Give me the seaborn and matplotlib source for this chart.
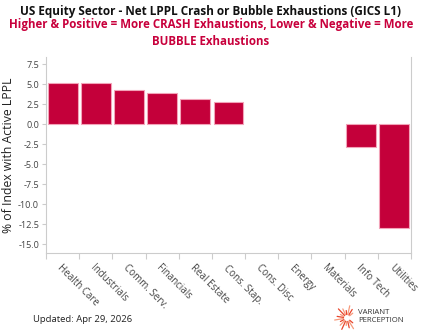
import numpy as np
import pandas as pd
import matplotlib
matplotlib.use("Agg")
import matplotlib.pyplot as plt
from matplotlib.lines import Line2D
import seaborn as sns

categories = ["Health Care", "Industrials", "Comm. Serv.", "Financials", "Real Estate",
              "Cons. Stap.", "Cons. Disc", "Energy", "Materials", "Info Tech", "Utilities"]
values = [5.2, 5.1, 4.3, 3.9, 3.2, 2.8, 0.0, 0.0, 0.0, -2.8, -13.0]
y_ticks = [7.5, 5.0, 2.5, 0.0, -2.5, -5.0, -7.5, -10.0, -12.5, -15.0]

title = "US Equity Sector - Net LPPL Crash or Bubble Exhaustions (GICS L1)"
subtitle = "Higher & Positive = More CRASH Exhaustions, Lower & Negative = More\nBUBBLE Exhaustions"
ylabel = "% of Index with Active LPPL"
footer = "Updated: Apr 29, 2026"

sns.set_theme(style="white")
plt.rcParams['font.family'] = ['Open Sans', 'DejaVu Sans']

df = pd.DataFrame({"sector": categories, "value": values})

fig = plt.figure(figsize=(4.22, 3.32), dpi=100)
ax = fig.add_axes([46/422, 1-253/332, (411-46)/422, (253-57)/332])

bar_color = "#C4003A"
sns.barplot(data=df, x="sector", y="value", color=bar_color, saturation=1,
            width=0.9, edgecolor="#F2A3B8", linewidth=0.8, ax=ax)
for p in ax.patches:
    if abs(p.get_height()) < 1e-9:
        p.set_linewidth(0)
        p.set_edgecolor("none")

ax.set_xlim(-0.5, len(categories) - 0.5)
ax.set_ylim(-16.1, 8.4)
ax.set_yticks(y_ticks)
ax.set_yticklabels([f"{t:.1f}" for t in y_ticks], fontsize=6.6, color="#444444")

ax.set_xticks(range(len(categories)))
ax.set_xticklabels(categories, rotation=-45, ha="left", va="top",
                   rotation_mode="anchor", fontsize=7.0, color="#444444")
ax.tick_params(axis="x", which="major", length=0, pad=7)
ax.set_xticks(np.arange(-0.5, len(categories), 1.0), minor=True)
ax.tick_params(axis="x", which="minor", length=4, color="#cccccc", width=0.8, bottom=True)
ax.tick_params(axis="y", length=3, color="#cccccc", width=0.8, left=True, pad=2)

ax.set_xlabel("")
ax.set_ylabel(ylabel, fontsize=8.8, color="#222222", labelpad=2)

for s in ["left", "right", "bottom"]:
    ax.spines[s].set_color("#cccccc")
    ax.spines[s].set_linewidth(0.8)
ax.spines["top"].set_visible(False)

fig.text(0.5, 1-12/332, title, ha="center", va="center", fontsize=8.5,
         fontweight="bold", color="#111111")
fig.text(0.5, 1-33/332, subtitle, ha="center", va="center", fontsize=8.3,
         fontweight="bold", color="#C8003C", linespacing=1.45)
fig.text(33/422, 1-319/332, footer, ha="left", va="center", fontsize=6.8, color="#222222")

# logo
r0 = 3.5
for i, ang in enumerate(np.linspace(40, 320, 16)):
    a = np.deg2rad(ang)
    L = 4 + 2.5 * (i % 3)
    x0 = (347 + r0*np.cos(a)) / 422
    y0 = 1 - (318 - r0*np.sin(a)) / 332
    x1 = (347 + (r0+L)*np.cos(a)) / 422
    y1 = 1 - (318 - (r0+L)*np.sin(a)) / 332
    fig.add_artist(Line2D([x0, x1], [y0, y1], transform=fig.transFigure,
                          color="#E8452C" if i % 2 else "#F79A7C", lw=0.9))
fig.text(358/422, 1-313/332, "VARIANT", ha="left", va="center", fontsize=5.6, color="#333333")
fig.text(358/422, 1-321/332, "PERCEPTION", ha="left", va="center", fontsize=5.6, color="#333333")

fig.savefig("out.png", dpi=100)
